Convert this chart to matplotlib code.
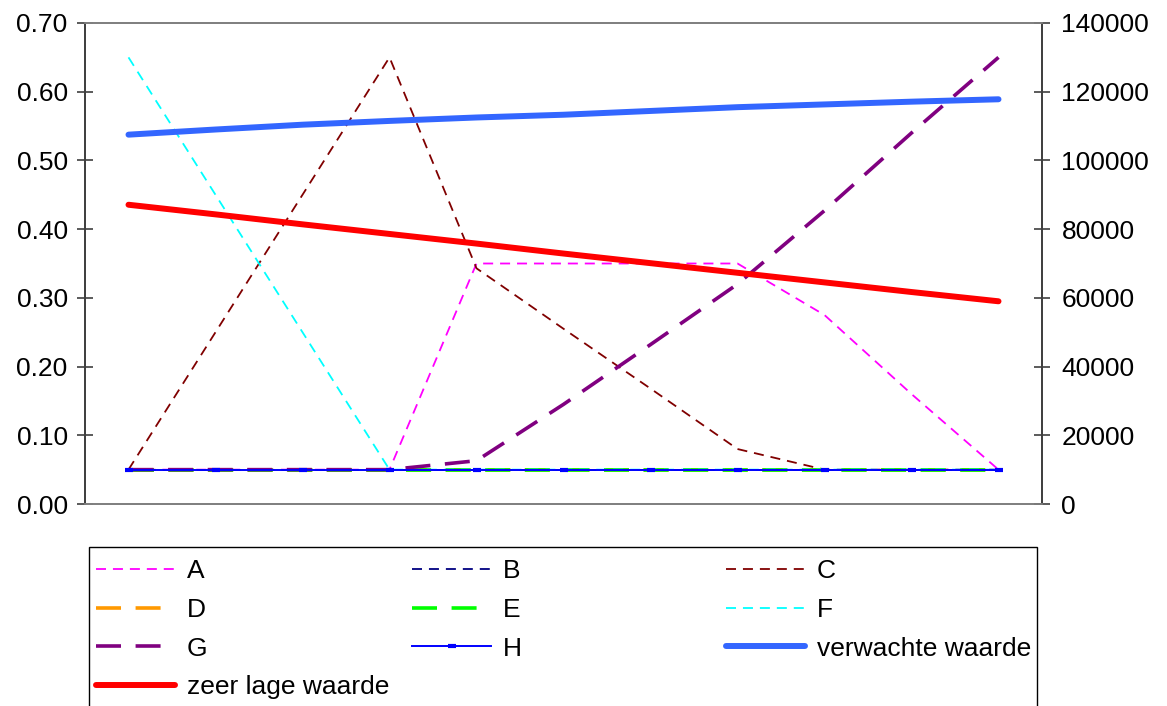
import matplotlib
matplotlib.use("Agg")
import matplotlib.pyplot as plt
from matplotlib.patches import Rectangle

plt.rcParams['font.family'] = ['Liberation Sans', 'DejaVu Sans']
plt.rcParams['lines.scale_dashes'] = False

# ---- data ----
categories = [1, 2, 3, 4, 5, 6, 7, 8, 9, 10, 11]
A = [0.05, 0.05, 0.05, 0.05, 0.35, 0.35, 0.35, 0.35, 0.275, 0.16, 0.05]
B = [0.05, 0.05, 0.05, 0.05, 0.05, 0.05, 0.05, 0.05, 0.05, 0.05, 0.05]
C = [0.05, 0.25, 0.45, 0.65, 0.343, 0.255, 0.168, 0.08, 0.05, 0.05, 0.05]
D = [0.05, 0.05, 0.05, 0.05, 0.05, 0.05, 0.05, 0.05, 0.05, 0.05, 0.05]
E = [0.05, 0.05, 0.05, 0.05, 0.05, 0.05, 0.05, 0.05, 0.05, 0.05, 0.05]
F = [0.65, 0.45, 0.25, 0.05, 0.05, 0.05, 0.05, 0.05, 0.05, 0.05, 0.05]
G = [0.05, 0.05, 0.05, 0.05, 0.063, 0.145, 0.232, 0.32, 0.427, 0.54, 0.65]
H = [0.05, 0.05, 0.05, 0.05, 0.05, 0.05, 0.05, 0.05, 0.05, 0.05, 0.05]
verwachte_waarde = [107500, 109000, 110400, 111500, 112500, 113300, 114400,
                    115500, 116300, 117100, 117800]
zeer_lage_waarde = [87100, 84300, 81400, 78600, 75800, 72900, 70100,
                    67300, 64500, 61700, 59000]
left_ticks = [0.0, 0.1, 0.2, 0.3, 0.4, 0.5, 0.6, 0.7]
right_ticks = [0, 20000, 40000, 60000, 80000, 100000, 120000, 140000]

W, Hpx = 1167, 706
fig = plt.figure(figsize=(W / 100, Hpx / 100), dpi=100)
ax = fig.add_axes([85 / W, 1 - 504 / Hpx, (1042 - 85) / W, (504 - 23) / Hpx])
ax2 = ax.twinx()

x = list(range(len(categories)))
thin = (0, (7.2, 5.0))
thick = (0, (18, 10.5))

lA, = ax.plot(x, A, color='#FF00FF', lw=1.3, linestyle=thin)
lB, = ax.plot(x, B, color='#000080', lw=1.3, linestyle=thin)
lC, = ax.plot(x, C, color='#800000', lw=1.3, linestyle=thin)
lD, = ax.plot(x, D, color='#FF9900', lw=2.6, linestyle=thick)
lE, = ax.plot(x, E, color='#00FF00', lw=2.6, linestyle=thick)
lF, = ax.plot(x, F, color='#00FFFF', lw=1.3, linestyle=thin)
lG, = ax.plot(x, G, color='#800080', lw=2.6, linestyle=thick)
lH, = ax.plot(x, H, color='#0000FF', lw=1.4, marker='_', markersize=6,
              markeredgewidth=3)
lV, = ax2.plot(x, verwachte_waarde, color='#3366FF', lw=4.3,
               solid_capstyle='round')
lZ, = ax2.plot(x, zeer_lage_waarde, color='#FF0000', lw=4.3,
               solid_capstyle='round')

ax.set_xlim(-0.5, len(categories) - 0.5)
ax.set_ylim(0, 0.70)
ax2.set_ylim(0, 140000)
ax.set_xticks([])
ax.set_yticks(left_ticks)
ax.set_yticklabels([f"{v:.2f}" for v in left_ticks])
ax2.set_yticks(right_ticks)
ax2.set_yticklabels([f"{v:d}" for v in right_ticks])

for a in (ax, ax2):
    a.tick_params(axis='y', direction='inout', length=12, width=1.2,
                  color='#404040', labelsize=19, labelcolor='black')
    a.spines['top'].set_color('#808080')
    a.spines['bottom'].set_color('#808080')
    a.spines['left'].set_color('#404040')
    a.spines['right'].set_color('#404040')
    for s in a.spines.values():
        s.set_linewidth(1.3)
ax.tick_params(axis='y', pad=6.5)
ax2.tick_params(axis='y', pad=8)

# legend box
box_l, box_t, box_r = 89, 547, 1037
fig.patches.append(Rectangle((box_l / W, -0.05), (box_r - box_l) / W,
                             (1 - box_t / Hpx) + 0.05,
                             transform=fig.transFigure, facecolor='white',
                             edgecolor='black', lw=1.0))

cols = [([lA, lD, lG, lZ], ['A', 'D', 'G', 'zeer lage waarde']),
        ([lB, lE, lH], ['B', 'E', 'H']),
        ([lC, lF, lV], ['C', 'F', 'verwachte waarde'])]
col_x = [96, 412, 726]
for (hs, ls), cx in zip(cols, col_x):
    fig.legend(hs, ls, loc='upper left',
               bbox_to_anchor=(cx / W, 1 - 559 / Hpx),
               frameon=False, fontsize=19, handlelength=3.0,
               handletextpad=0.45, labelspacing=0.56, borderpad=0,
               borderaxespad=0)

fig.savefig('out.png', dpi=100)
